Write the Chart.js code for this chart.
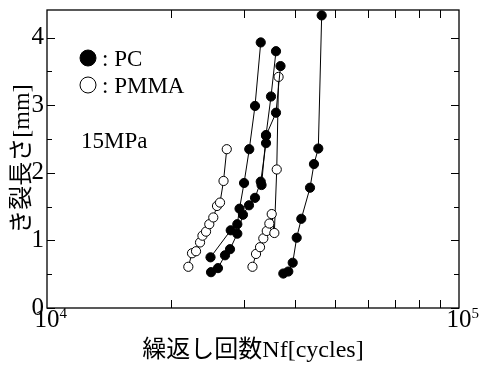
<!DOCTYPE html>
<html>
<head>
<meta charset="utf-8">
<script src="https://cdn.jsdelivr.net/npm/chart.js@4/dist/chart.umd.min.js"></script>
<style>
  html, body { margin: 0; padding: 0; background: #fff; }
</style>
</head>
<body>
<canvas id="crackChart" width="479" height="367"></canvas>
<script>
const SERIF = '"Liberation Serif", "Noto Sans CJK JP", serif';

// PC specimens (filled marks): cycles and crack length [mm]
const pc1Cycles = [24940, 27920, 28970, 29330, 30080, 30970, 31980, 33020];
const pc1Crack = [0.75, 1.15, 1.24, 1.47, 1.85, 2.35, 2.99, 3.93];

const pc2Cycles = [25010, 26000, 27040, 27810, 28970, 29900, 30920, 31980, 33020, 34010, 34010, 34970, 35960];
const pc2Crack = [0.53, 0.59, 0.78, 0.87, 1.10, 1.38, 1.52, 1.63, 1.87, 2.44, 2.56, 3.13, 3.80];

const pc3Cycles = [33170, 34010, 35960, 36880];
const pc3Crack = [1.82, 2.55, 2.89, 3.58];

const pc4Cycles = [37460, 38520, 39480, 40370, 41420, 43490, 44460, 45550, 46420];
const pc4Crack = [0.51, 0.54, 0.67, 1.04, 1.32, 1.78, 2.13, 2.36, 4.33];

// PMMA specimens (open marks)
const pmma1Cycles = [22030, 22490, 23000, 23520, 23840, 24320, 24770, 25330, 25860, 26300, 26820, 27310];
const pmma1Crack = [0.61, 0.81, 0.84, 0.97, 1.07, 1.13, 1.24, 1.34, 1.51, 1.56, 1.88, 2.35];

const pmma2Cycles = [31530, 32160, 32890, 33500, 34150, 34650, 35110, 35630, 36110, 36480];
const pmma2Crack = [0.61, 0.80, 0.90, 1.03, 1.14, 1.25, 1.39, 1.11, 2.05, 3.42];

const xMin = 1e4;
const xMax = 1e5;
const yMin = 0;
const yMax = 4.41;
const yMajorTicks = [0, 1, 2, 3, 4];
const yMinorTicks = [0.5, 1.5, 2.5, 3.5];
const xMinorTicks = [2e4, 3e4, 4e4, 5e4, 6e4, 7e4, 8e4, 9e4];
const xDecades = [{ value: 1e4, exp: '4' }, { value: 1e5, exp: '5' }];

const xTitle = '繰返し回数Nf[cycles]';
const yTitle = 'き裂長さ[mm]';
const stressNote = '15MPa';
const legendItems = [
  { label: ': PC', filled: true },
  { label: ': PMMA', filled: false },
];

function toPoints(xs, ys) {
  return xs.map((v, i) => ({ x: v, y: ys[i] }));
}

function series(xs, ys, filled) {
  return {
    data: toPoints(xs, ys),
    showLine: true,
    borderColor: '#000',
    borderWidth: 1,
    pointRadius: 4.6,
    pointHoverRadius: 4.6,
    pointBorderWidth: 1,
    pointBorderColor: '#000',
    pointBackgroundColor: filled ? '#000' : '#fff',
    tension: 0,
  };
}

const frameAndTicks = {
  id: 'frameAndTicks',
  beforeDatasetsDraw(chart) {
    const { ctx, chartArea: a, scales: { x, y } } = chart;
    ctx.save();
    ctx.strokeStyle = '#000';
    ctx.lineWidth = 1.3;
    ctx.strokeRect(a.left, a.top, a.right - a.left, a.bottom - a.top);

    ctx.lineWidth = 1;
    ctx.beginPath();
    xMinorTicks.forEach((v) => {
      const px = Math.round(x.getPixelForValue(v)) + 0.5;
      ctx.moveTo(px, a.bottom);
      ctx.lineTo(px, a.bottom - 8);
      ctx.moveTo(px, a.top);
      ctx.lineTo(px, a.top + 8);
    });
    yMajorTicks.forEach((v) => {
      const py = Math.round(y.getPixelForValue(v)) + 0.5;
      ctx.moveTo(a.left, py);
      ctx.lineTo(a.left + 8, py);
      ctx.moveTo(a.right, py);
      ctx.lineTo(a.right - 8, py);
    });
    yMinorTicks.forEach((v) => {
      const py = Math.round(y.getPixelForValue(v)) + 0.5;
      ctx.moveTo(a.left, py);
      ctx.lineTo(a.left + 5, py);
      ctx.moveTo(a.right, py);
      ctx.lineTo(a.right - 5, py);
    });
    ctx.stroke();
    ctx.restore();
  },
  afterDraw(chart) {
    const { ctx, chartArea: a, scales: { x } } = chart;
    ctx.save();
    ctx.fillStyle = '#000';
    ctx.textBaseline = 'alphabetic';

    // decade labels 10^4, 10^5
    xDecades.forEach((d) => {
      const px = x.getPixelForValue(d.value);
      ctx.font = `25px ${SERIF}`;
      ctx.textAlign = 'center';
      ctx.fillText('10', px, a.bottom + 19);
      const w = ctx.measureText('10').width;
      ctx.font = `15px ${SERIF}`;
      ctx.textAlign = 'left';
      ctx.fillText(d.exp, px + w / 2, a.bottom + 10);
    });

    // legend inside the plot
    legendItems.forEach((item, i) => {
      const cy = a.top + 48 + i * 27;
      const cx = a.left + 41;
      ctx.beginPath();
      ctx.arc(cx, cy, 8, 0, Math.PI * 2);
      ctx.fillStyle = item.filled ? '#000' : '#fff';
      ctx.fill();
      ctx.lineWidth = 1;
      ctx.strokeStyle = '#000';
      ctx.stroke();
      ctx.fillStyle = '#000';
      ctx.font = `23px ${SERIF}`;
      ctx.textAlign = 'left';
      ctx.fillText(item.label, cx + 14, cy + 8);
    });

    ctx.font = `23px ${SERIF}`;
    ctx.fillText(stressNote, a.left + 34, a.top + 138);
    ctx.restore();
  },
};

const fixAxis = (size) => (scale) => {
  if (scale.isHorizontal()) scale.height = size;
  else scale.width = size;
  scale.paddingTop = 0;
  scale.paddingBottom = 0;
  scale.paddingLeft = 0;
  scale.paddingRight = 0;
};

const ctx = document.getElementById('crackChart').getContext('2d');
new Chart(ctx, {
  type: 'scatter',
  data: {
    datasets: [
      series(pc1Cycles, pc1Crack, true),
      series(pc2Cycles, pc2Crack, true),
      series(pc3Cycles, pc3Crack, true),
      series(pc4Cycles, pc4Crack, true),
      series(pmma1Cycles, pmma1Crack, false),
      series(pmma2Cycles, pmma2Crack, false),
    ],
  },
  options: {
    responsive: false,
    animation: false,
    layout: { padding: { left: 0, top: 10, right: 20, bottom: 0 } },
    plugins: {
      legend: { display: false },
      tooltip: { enabled: false },
    },
    scales: {
      x: {
        type: 'logarithmic',
        min: xMin,
        max: xMax,
        grid: { display: false, drawTicks: false },
        border: { display: false },
        ticks: { display: false },
        title: {
          display: true,
          text: xTitle,
          color: '#000',
          font: { family: SERIF, size: 24 },
          padding: { top: 0, bottom: 2 },
        },
        afterFit: fixAxis(59),
      },
      y: {
        min: yMin,
        max: yMax,
        grid: { display: false, drawTicks: false },
        border: { display: false },
        ticks: {
          stepSize: 1,
          includeBounds: false,
          padding: 3,
          color: '#000',
          font: { family: SERIF, size: 25 },
        },
        title: {
          display: true,
          text: yTitle,
          color: '#000',
          font: { family: SERIF, size: 24 },
          padding: { top: 8, bottom: 0 },
        },
        afterFit: fixAxis(47),
      },
    },
  },
  plugins: [frameAndTicks],
});
</script>
</body>
</html>
